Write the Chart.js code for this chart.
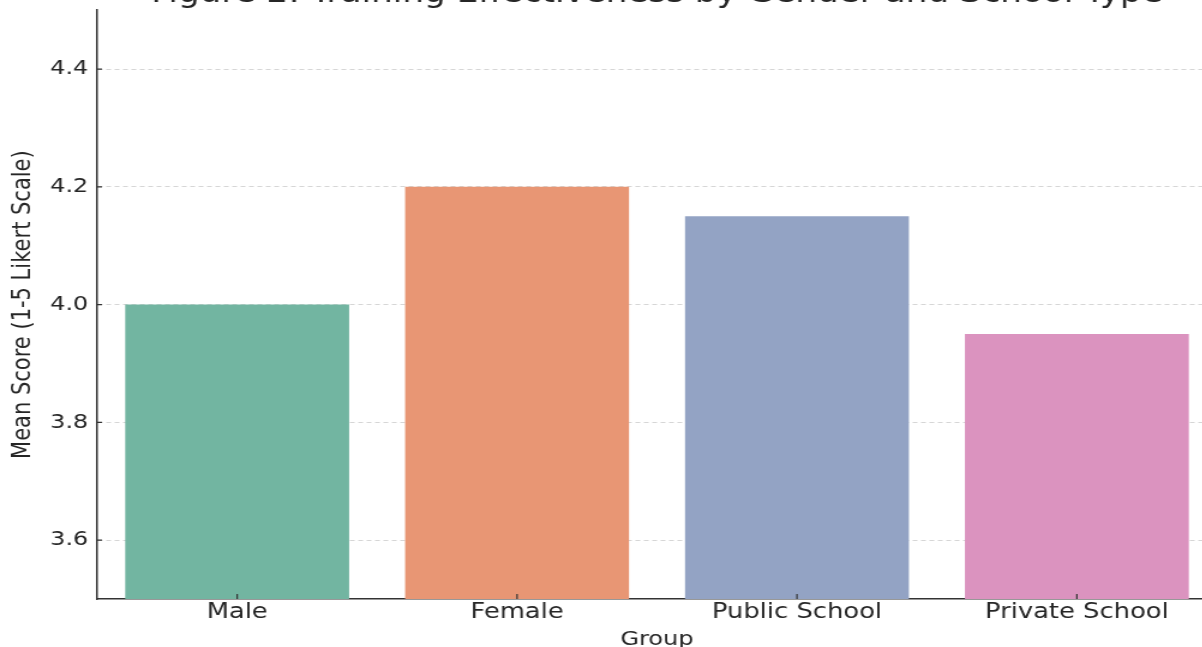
<!DOCTYPE html>
<html>
<head>
<meta charset="utf-8">
<script src="https://cdn.jsdelivr.net/npm/chart.js@4.4.1/dist/chart.umd.min.js"></script>
<style>
  html, body { margin: 0; padding: 0; background: #fff; overflow: hidden; width: 1202px; height: 647px; }
  #wrap { position: absolute; left: 0; top: -25px; width: 1014px; height: 677px; transform: scaleX(1.2); transform-origin: 0 0; }
</style>
</head>
<body>
<div id="wrap"><canvas id="chart"></canvas></div>
<script>
// data
const groups = ['Male', 'Female', 'Public School', 'Private School'];
const meanScores = [4.0, 4.2, 4.15, 3.95];
const barColors = ['#72b5a1', '#e89674', '#93a3c4', '#db93bf'];
const yTicks = [3.6, 3.8, 4.0, 4.2, 4.4];

const FONT = 'DejaVu Sans';
const INK = '#262626';

// matplotlib style ticks pointing into the plot
const inwardTicks = {
    id: 'inwardTicks',
    afterDatasetsDraw(chart) {
        const ctx = chart.ctx;
        const x = chart.scales.x, y = chart.scales.y;
        ctx.save();
        ctx.strokeStyle = '#333';
        ctx.lineWidth = 1.2;
        ctx.beginPath();
        yTicks.forEach(v => {
            const py = y.getPixelForValue(v);
            ctx.moveTo(chart.chartArea.left, py);
            ctx.lineTo(chart.chartArea.left + 4, py);
        });
        groups.forEach((g, i) => {
            const px = x.getPixelForValue(i);
            ctx.moveTo(px, chart.chartArea.bottom);
            ctx.lineTo(px, chart.chartArea.bottom - 5);
        });
        ctx.stroke();
        ctx.restore();
    }
};

const ctx = document.getElementById('chart').getContext('2d');
const chart = new Chart(ctx, {
    type: 'bar',
    data: {
        labels: groups,
        datasets: [{
            label: 'Mean Score',
            data: meanScores,
            backgroundColor: barColors,
            borderWidth: 0,
            categoryPercentage: 0.8,
            barPercentage: 1.0
        }]
    },
    options: {
        responsive: true,
        maintainAspectRatio: false,
        animation: false,
        layout: { padding: 0 },
        plugins: {
            legend: { display: false },
            tooltip: { enabled: false },
            title: {
                display: true,
                fullSize: false,
                text: 'Figure 2: Training Effectiveness by Gender and School Type',
                color: INK,
                font: { family: FONT, size: 28.5, weight: 'normal' },
                padding: { top: 2, bottom: -1 }
            }
        },
        scales: {
            x: {
                grid: { display: false, drawTicks: false },
                border: { display: true, color: '#333', width: 1.5 },
                ticks: { color: INK, padding: 1, font: { family: FONT, size: 21.5 } },
                title: {
                    display: true,
                    text: 'Group',
                    color: INK,
                    font: { family: FONT, size: 20 },
                    padding: { top: 0, bottom: 0 }
                },
                afterFit(scale) { scale.height = 53; }
            },
            y: {
                min: 3.5,
                max: 4.5,
                afterBuildTicks(scale) {
                    scale.ticks = yTicks.map(v => ({ value: v }));
                },
                grid: { color: '#d6d6d6', lineWidth: 1, drawTicks: false },
                border: { display: true, color: '#333', width: 1.5, dash: [4, 3] },
                ticks: {
                    color: INK,
                    padding: 7.5,
                    font: { family: FONT, size: 20 },
                    callback: v => v.toFixed(1)
                },
                title: {
                    display: true,
                    text: 'Mean Score (1-5 Likert Scale)',
                    color: INK,
                    font: { family: FONT, size: 21 },
                    padding: { top: 6.5, bottom: 0 }
                },
                afterFit(scale) { scale.width = 81; }
            }
        }
    },
    plugins: [inwardTicks]
});
</script>
</body>
</html>
